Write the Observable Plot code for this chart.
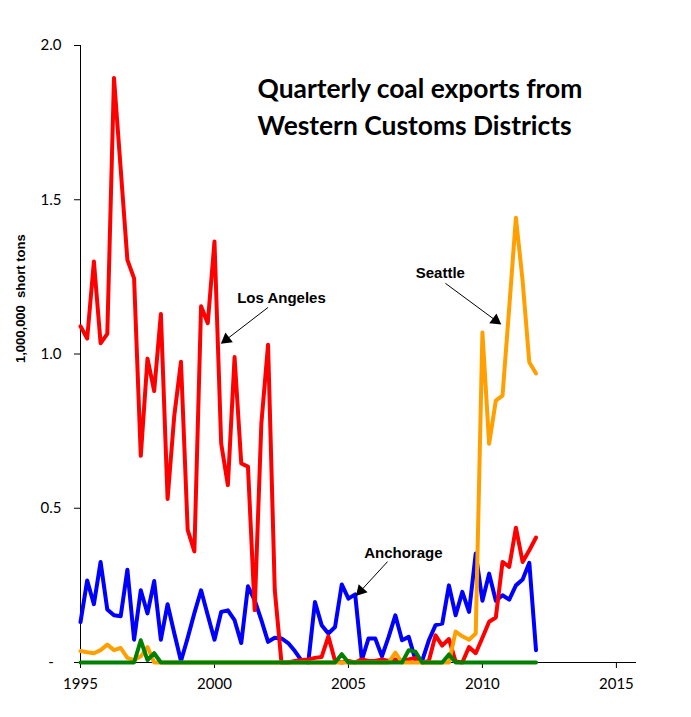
<!DOCTYPE html>
<html><head><meta charset="utf-8">
<script src="https://cdn.jsdelivr.net/npm/d3@7"></script>
<script src="https://cdn.jsdelivr.net/npm/@observablehq/plot@0.6"></script>
<style>
body{margin:0;background:#fff;}
svg text{white-space:pre;}
</style></head><body><div id="chart"></div>
<script>
// Quarterly series, first value = 1995 Q1, one value per quarter (million short tons)
const firstYear = 1995;
const losAngeles = [1.09,1.05,1.30,1.035,1.065,1.895,1.60,1.305,1.245,0.67,0.985,0.88,1.13,0.53,0.80,0.975,0.43,0.36,1.155,1.10,1.365,0.71,0.575,0.99,0.645,0.635,0.17,0.775,1.03,0.235,
  0.0,0.0,0.005,0.008,0.01,0.015,0.018,0.085,0.005,0.0,0.005,0.0,0.01,0.005,0.005,0.01,0.005,0.01,0.005,0.01,0.015,0.0,0.005,0.088,0.055,0.076,0.003,0.0,0.05,0.03,
  0.08,0.132,0.146,0.326,0.31,0.437,0.326,0.364,0.405];
const anchorage = [0.131,0.266,0.189,0.326,0.172,0.153,0.15,0.301,0.074,0.234,0.159,0.264,0.074,0.189,0.095,0.005,0.08,0.16,0.234,0.153,0.074,0.164,0.169,0.137,0.063,0.247,0.202,0.137,0.067,0.08,
  0.078,0.063,0.037,0.006,0.0,0.196,0.121,0.094,0.115,0.253,0.207,0.221,0.008,0.078,0.078,0.02,0.083,0.153,0.072,0.083,0.008,0.005,0.072,0.121,0.126,0.25,0.153,0.229,0.164,0.353,
  0.2,0.288,0.2,0.218,0.204,0.25,0.269,0.323,0.04];
const seattle = [0.037,0.033,0.03,0.04,0.058,0.04,0.047,0.015,0.008,0.02,0.05,0,0,0,0,0,0,0,0,0,0,0,0,0,0,0,0,0,0,0,
  0,0,0,0,0,0,0,0,0,0,0,0,0,0,0,0,0,0.032,0,0,0,0,0,0,0,0,0.1,0.085,0.074,0.094,
  1.07,0.709,0.849,0.865,1.15,1.442,1.237,0.973,0.937];
const otherDistrict = [0,0,0,0,0,0,0,0,0,0.072,0.008,0.03,0,0,0,0,0,0,0,0,0,0,0,0,0,0,0,0,0,0,
  0,0,0,0,0,0,0,0,0,0.027,0,0,0,0,0,0,0,0,0,0.04,0.035,0,0,0,0,0.026,0,0,0,0,
  0,0,0,0,0,0,0,0,0];

const seriesNames = ["Anchorage","Los Angeles","Seattle","Other"];
const seriesValues = [anchorage, losAngeles, seattle, otherDistrict];
const seriesColors = ["#0000ff","#ff0000","#ffa000","#008000"];

const xTicks = [1995,2000,2005,2010,2015];
const yTicks = [0,0.5,1,1.5,2];
const titleText = "Quarterly coal exports from\nWestern Customs Districts";
const yLabel = "1,000,000  short tons";
const annotations = [
  {label:"Los Angeles", tx:2002.5, ty:1.18, x1:2002.0, y1:1.151, x2:2000.34, y2:1.04},
  {label:"Seattle", tx:2008.43, ty:1.261, x1:2008.62, y1:1.229, x2:2010.6, y2:1.102},
  {label:"Anchorage", tx:2007.05, ty:0.353, x1:2006.46, y1:0.327, x2:2005.37, y2:0.224}
];

const W = 691, H = 717, mL = 80, mR = 55, mT = 45, mB = 55;
const xDomain = [1995, 2015.75], yDomain = [0, 2];
const ppx = (W - mL - mR) / (xDomain[1] - xDomain[0]);
const ppy = (H - mT - mB) / (yDomain[1] - yDomain[0]);
// filled arrow heads: orientation derived from the annotation segments
const heads = annotations.map(a => {
  const sx = (a.x2 - a.x1) * ppx, sy = -(a.y2 - a.y1) * ppy;
  const len = Math.hypot(sx, sy), ux = sx / len, uy = sy / len;
  return {x: a.x2 - ux * 3.5 / ppx, y: a.y2 + uy * 3.5 / ppy, angle: Math.atan2(ux, -uy) * 180 / Math.PI};
});

const tables = seriesValues.map((vals, k) =>
  vals.map((v, i) => ({name: seriesNames[k], t: firstYear + i / 4, v})));

const chart = Plot.plot({
  width: W, height: H,
  marginLeft: mL, marginRight: mR, marginTop: mT, marginBottom: mB,
  style: {fontFamily: "Lato", fontSize: "15px", color: "#000", background: "#fff"},
  x: {domain: xDomain},
  y: {domain: yDomain},
  marks: [
    Plot.axisX({ticks: xTicks, tickFormat: d => String(d), tickSize: 6, tickPadding: 10, label: null}),
    Plot.axisY({ticks: yTicks, tickFormat: d => d === 0 ? "-  " : d.toFixed(1), tickSize: 6, tickPadding: 13, label: null}),
    Plot.ruleX([xDomain[0]], {stroke: "#000", strokeWidth: 1}),
    Plot.ruleY([0], {stroke: "#000", strokeWidth: 1}),
    ...tables.map((tab, k) => Plot.line(tab, {x: "t", y: "v", stroke: seriesColors[k], strokeWidth: 4, strokeLinejoin: "round", strokeLinecap: "round"})),
    Plot.text([yLabel], {frameAnchor: "left", rotate: -90, dx: -60, dy: 9, fontSize: 13, fontWeight: "bold", fontFamily: "Liberation Sans"}),
    Plot.text([titleText], {frameAnchor: "top-left", dx: 177, dy: 26, textAnchor: "start", lineAnchor: "top", fontSize: 26.4, fontWeight: "bold", fontFamily: "Lato", lineHeight: 1.4}),
    Plot.text(annotations, {x: "tx", y: "ty", text: "label", fontSize: 15, fontWeight: "bold", fontFamily: "Liberation Sans"}),
    Plot.link(annotations, {x1: "x1", y1: "y1", x2: "x2", y2: "y2", stroke: "#000", strokeWidth: 1}),
    Plot.dot(heads, {x: "x", y: "y", symbol: "triangle", r: 4.5, fill: "#000", stroke: "none", rotate: "angle"})
  ]
});
document.getElementById("chart").appendChild(chart);
</script></body></html>
